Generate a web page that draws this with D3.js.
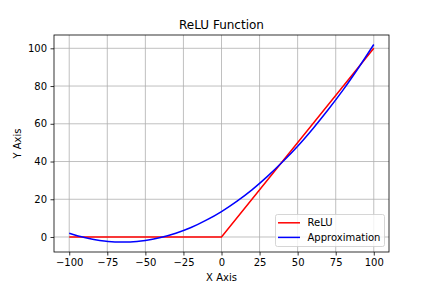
<!DOCTYPE html>
<html>
<head>
<meta charset="utf-8">
<script src="https://cdn.jsdelivr.net/npm/d3@7"></script>
<style>
  body { margin: 0; background: #fff; }
  text { font-family: "DejaVu Sans", sans-serif; fill: #000; }
</style>
</head>
<body>
<div id="visual"></div>
<script>
// values
const reluX = [-100, 0, 100];
const reluY = [0, 0, 100];

const approxX = [-100, -90, -80, -70, -60, -50, -40, -30, -20, -10, 0, 10, 20, 30, 40, 50, 60, 70, 80, 90, 100];
const approxY = [2.0, -0.3, -1.9, -2.6, -2.6, -1.9, -0.3, 2.0, 5.0, 8.9, 13.5, 18.9, 25.0, 32.0, 39.7, 48.1, 57.4, 67.4, 78.1, 89.7, 102.0];

const xTicks = [-100, -75, -50, -25, 0, 25, 50, 75, 100];
const yTicks = [0, 20, 40, 60, 80, 100];

const margin = { top: 35, right: 43, bottom: 36, left: 54 };
const width = 432 - margin.left - margin.right;
const height = 288 - margin.top - margin.bottom;

const svg = d3.select("#visual")
  .append("svg")
  .attr("width", 432)
  .attr("height", 288);

const g = svg.append("g")
  .attr("transform", `translate(${margin.left},${margin.top})`);

const x = d3.scaleLinear().domain([-110, 110]).range([0, width]);
const y = d3.scaleLinear().domain([-7.95, 107.05]).range([height, 0]);

const fmt = d => (d < 0 ? "\u2212" + Math.abs(d) : "" + d);

// grid
g.append("g").selectAll("line").data(xTicks).join("line")
  .attr("x1", d => x(d)).attr("x2", d => x(d))
  .attr("y1", 0).attr("y2", height)
  .attr("stroke", "#b0b0b0").attr("stroke-width", 0.8);
g.append("g").selectAll("line").data(yTicks).join("line")
  .attr("y1", d => y(d)).attr("y2", d => y(d))
  .attr("x1", 0).attr("x2", width)
  .attr("stroke", "#b0b0b0").attr("stroke-width", 0.8);

// lines
const relu = reluX.map((v, i) => [v, reluY[i]]);
const approx = approxX.map((v, i) => [v, approxY[i]]);

const line = d3.line().x(d => x(d[0])).y(d => y(d[1]));

g.append("path").datum(relu)
  .attr("d", line)
  .attr("fill", "none").attr("stroke", "red").attr("stroke-width", 1.5);

g.append("path").datum(approx)
  .attr("d", line.curve(d3.curveMonotoneX))
  .attr("fill", "none").attr("stroke", "blue").attr("stroke-width", 1.5);

// axes
const xAxis = g.append("g")
  .attr("transform", `translate(0,${height})`)
  .call(d3.axisBottom(x).tickValues(xTicks).tickFormat(fmt).tickSize(3.5).tickPadding(3.5));
const yAxis = g.append("g")
  .call(d3.axisLeft(y).tickValues(yTicks).tickFormat(fmt).tickSize(3.5).tickPadding(3.5));

[xAxis, yAxis].forEach(a => {
  a.select(".domain").remove();
  a.selectAll("text").style("font-size", "10px").style("font-family", "DejaVu Sans");
  a.selectAll("line").attr("stroke", "#000").attr("stroke-width", 0.8);
});

// frame
g.append("rect")
  .attr("width", width).attr("height", height)
  .attr("fill", "none").attr("stroke", "#000").attr("stroke-width", 0.8);

// title and labels
svg.append("text")
  .attr("x", margin.left + width / 2).attr("y", 29)
  .attr("text-anchor", "middle")
  .style("font-size", "12px")
  .text("ReLU Function");

svg.append("text")
  .attr("x", margin.left + width / 2).attr("y", 281)
  .attr("text-anchor", "middle")
  .style("font-size", "10px")
  .text("X Axis");

svg.append("text")
  .attr("transform", `translate(21,${margin.top + height / 2}) rotate(-90)`)
  .attr("text-anchor", "middle")
  .style("font-size", "10px")
  .text("Y Axis");

// legend
const legendItems = [
  { name: "ReLU", color: "red" },
  { name: "Approximation", color: "blue" }
];
const lg = svg.append("g").attr("transform", "translate(275.5,214.5)");
lg.append("rect")
  .attr("width", 109).attr("height", 32)
  .attr("rx", 2)
  .attr("fill", "#fff").attr("fill-opacity", 0.8)
  .attr("stroke", "#cccccc").attr("stroke-width", 0.8);

const rows = lg.selectAll("g.item").data(legendItems).join("g")
  .attr("class", "item")
  .attr("transform", (d, i) => `translate(0,${8.3 + i * 14.6})`);
rows.append("line")
  .attr("x1", 2.5).attr("x2", 24.5)
  .attr("stroke", d => d.color).attr("stroke-width", 1.5);
rows.append("text")
  .attr("x", 32).attr("dy", "0.35em")
  .style("font-size", "10px")
  .text(d => d.name);
</script>
</body>
</html>
